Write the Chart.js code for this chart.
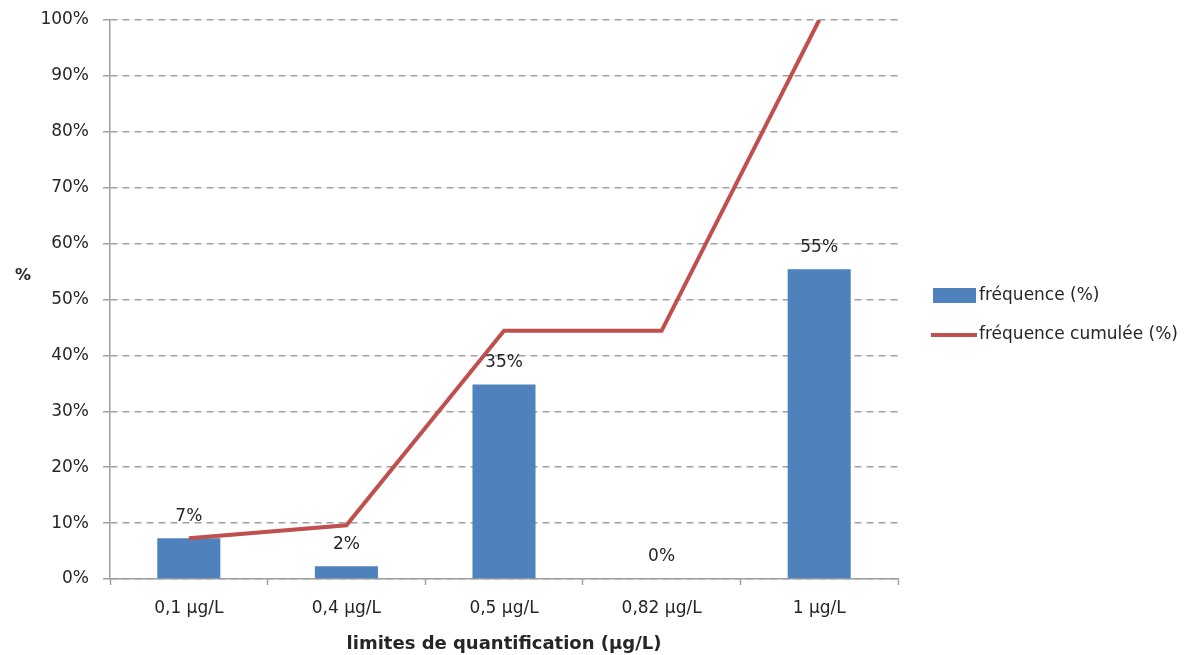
<!DOCTYPE html>
<html>
<head>
<meta charset="utf-8">
<script src="https://cdn.jsdelivr.net/npm/chart.js@4.4.1/dist/chart.umd.min.js"></script>
<style>
	html, body { margin: 0; padding: 0; background: #fff; }
	#wrap { width: 1184px; height: 655px; position: relative; }
</style>
</head>
<body>
<div id="wrap"><canvas id="chart"></canvas></div>
<script>
// valeurs
const categories = ["0,1 µg/L", "0,4 µg/L", "0,5 µg/L", "0,82 µg/L", "1 µg/L"];
const frequence = [7.3, 2.3, 34.8, 0, 55.4];
const frequenceCumulee = [7.3, 9.6, 44.4, 44.4, 100];
const seriesNames = ["fréquence (%)", "fréquence cumulée (%)"];
const xTitle = "limites de quantification (µg/L)";
const yTitle = "%";

const BLUE = "#4F81BD";
const RED = "#C0504D";
const TEXT = "#262626";
const FONT = "'DejaVu Sans', sans-serif";

Chart.defaults.font.family = FONT;
Chart.defaults.font.size = 17;
Chart.defaults.color = TEXT;

// etiquettes au-dessus des barres + titres + legende a droite
const extras = {
	id: "extras",
	afterDraw(chart) {
		const ctx = chart.ctx;
		const area = chart.chartArea;
		ctx.save();
		ctx.fillStyle = TEXT;
		ctx.font = "17px " + FONT;
		ctx.textAlign = "center";
		ctx.textBaseline = "middle";
		chart.getDatasetMeta(0).data.forEach((bar, i) => {
			ctx.fillText(Math.round(frequence[i]) + "%", bar.x, bar.y - 22);
		});

		ctx.font = "bold 18px " + FONT;
		ctx.fillText(xTitle, (area.left + area.right) / 2, 644);
		ctx.font = "bold 16px " + FONT;
		ctx.fillText(yTitle, 23, 276);

		// legende
		ctx.font = "17px " + FONT;
		ctx.textAlign = "left";
		ctx.fillStyle = BLUE;
		ctx.fillRect(933, 288, 43, 15);
		ctx.strokeStyle = RED;
		ctx.lineWidth = 4;
		ctx.beginPath();
		ctx.moveTo(931, 335);
		ctx.lineTo(977, 335);
		ctx.stroke();
		ctx.fillStyle = TEXT;
		ctx.fillText(seriesNames[0], 979, 296);
		ctx.fillText(seriesNames[1], 979, 335);
		ctx.restore();
	},
};

new Chart(document.getElementById("chart"), {
	data: {
		labels: categories,
		datasets: [
			{
				type: "bar",
				label: seriesNames[0],
				data: frequence,
				backgroundColor: BLUE,
				barPercentage: 0.4,
				categoryPercentage: 1,
				order: 2,
			},
			{
				type: "line",
				label: seriesNames[1],
				data: frequenceCumulee,
				borderColor: RED,
				borderWidth: 4,
				pointRadius: 0,
				tension: 0,
				order: 1,
			},
		],
	},
	options: {
		responsive: true,
		maintainAspectRatio: false,
		animation: false,
		layout: { padding: { left: 40, right: 286, top: 20, bottom: 23.6 } },
		plugins: { legend: { display: false }, tooltip: { enabled: false } },
		scales: {
			x: {
				offset: true,
				border: { color: "#a0a0a0", width: 1.5 },
				grid: {
					offset: true,
					drawOnChartArea: false,
					drawTicks: true,
					tickLength: 6,
					tickColor: "#a0a0a0",
					tickWidth: 1.5,
				},
				ticks: { padding: 13, color: TEXT },
			},
			y: {
				min: 0,
				max: 100,
				afterFit(scale) {
					scale.width = 70;
					scale.paddingTop = 0;
				},
				border: { color: "#a0a0a0", width: 1.5, dash: [7, 5] },
				grid: {
					color: "#a0a0a0",
					lineWidth: 1.5,
					tickLength: 7,
					tickColor: "#a0a0a0",
					tickBorderDash: [],
				},
				ticks: {
					stepSize: 10,
					padding: 14,
					color: TEXT,
					callback: (v) => v + "%",
				},
			},
		},
	},
	plugins: [extras],
});
</script>
</body>
</html>
